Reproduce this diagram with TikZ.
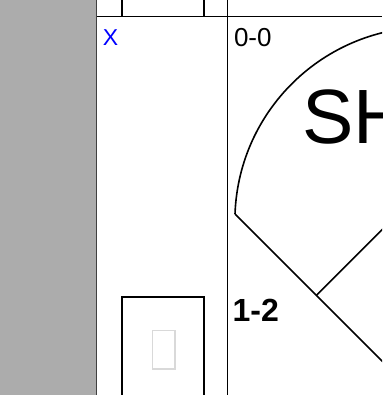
\documentclass[tikz,border=0pt]{standalone}
\usepackage{fontspec}
\setmainfont{Liberation Sans}
\begin{document}
\begin{tikzpicture}[x=1pt,y=1pt,
  rule/.style={line width=1.6pt,black},
  boxline/.style={line width=1.8pt,black},
  lbl/.style={inner sep=0pt,anchor=base west}]
\useasboundingbox (0,0) rectangle (382,395);
\clip (0,0) rectangle (382,395);
% gray margin
\fill[gray!65] (0,0) rectangle (96,395);
\draw[line width=1.2pt,black!75] (96.6,0) -- (96.6,395);
% grid rules
\draw[rule] (97,378.6) -- (382,378.6);
\draw[rule] (227.6,0) -- (227.6,395);
% box above (cut off)
\draw[boxline] (121.7,395) -- (121.7,378.6);
\draw[boxline] (204.3,395) -- (204.3,378.6);
% box below
\draw[boxline] (121.7,-5) -- (121.7,98.3) -- (204.3,98.3) -- (204.3,-5);
\draw[line width=1.4pt,black!15] (152.3,64.3) rectangle (175,26);
% field
\coordinate (lf) at (235,181);
\draw[line width=1.6pt] (lf) arc[start angle=177.9,end angle=60,radius=194];
\draw[line width=1.6pt] (lf) -- ++(200,-200);
\coordinate (tb) at (316.7,100);
\draw[line width=1.6pt] (tb) -- ++(120,120);
% labels
\node[lbl,text=blue] (x) at (102.7,349.3) {\fontsize{23}{23}\selectfont X};
\node[lbl] (score) at (233.8,348.5) {\fontsize{26}{26}\selectfont 0-0};
\node[lbl] (sh) at (302,251) {\fontsize{77}{77}\selectfont SH};
\node[lbl] (cnt) at (232.5,73.3) {\fontsize{32}{32}\selectfont\bfseries 1-2};
\end{tikzpicture}
\end{document}
